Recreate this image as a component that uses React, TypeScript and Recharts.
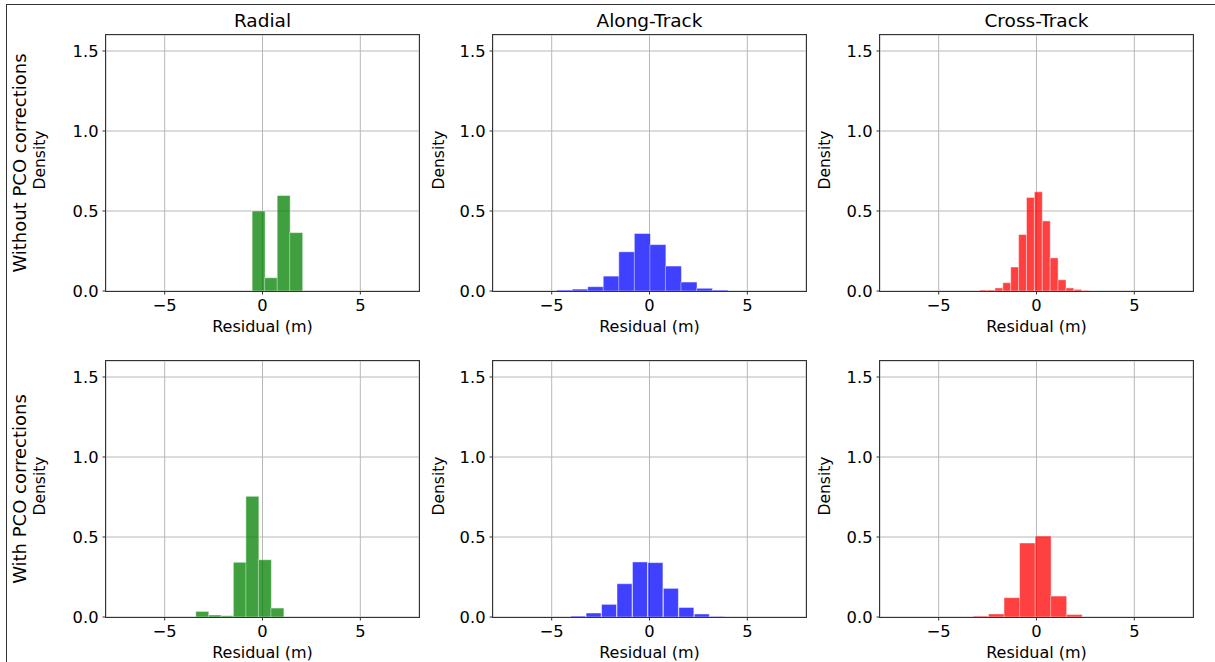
import React from 'react';
import { BarChart, Bar, XAxis, YAxis, CartesianGrid } from 'recharts';

// ---- Data (bin centres in metres, density values) ----
const radialWithoutCenters = [-0.21, 0.43, 1.07, 1.71];
const radialWithoutDensity = [0.5, 0.083, 0.597, 0.365];

const alongWithoutCenters = [-4.3525, -3.5575, -2.7625, -1.9675, -1.1725, -0.3775, 0.4175, 1.2125, 2.0075, 2.8025, 3.5975];
const alongWithoutDensity = [0.006, 0.012, 0.027, 0.093, 0.245, 0.359, 0.29, 0.156, 0.056, 0.017, 0.006];

const crossWithoutCenters = [-2.7285, -2.3255, -1.9225, -1.5195, -1.1165, -0.7135, -0.3105, 0.0925, 0.4955, 0.8985, 1.3015, 1.7045, 2.1075, 2.5105];
const crossWithoutDensity = [0.006, 0.006, 0.019, 0.052, 0.15, 0.353, 0.585, 0.62, 0.438, 0.207, 0.07, 0.019, 0.01, 0.004];

const radialWithCenters = [-3.09, -2.45, -1.81, -1.17, -0.53, 0.11, 0.75];
const radialWithDensity = [0.035, 0.0125, 0.008, 0.342, 0.754, 0.358, 0.056];

const alongWithCenters = [-3.635, -2.845, -2.055, -1.265, -0.475, 0.315, 1.105, 1.895, 2.685, 3.475];
const alongWithDensity = [0.006, 0.025, 0.079, 0.208, 0.344, 0.34, 0.179, 0.06, 0.019, 0.004];

const crossWithCenters = [-2.8525, -2.0575, -1.2625, -0.4675, 0.3275, 1.1225, 1.9175];
const crossWithDensity = [0.006, 0.019, 0.121, 0.4625, 0.506, 0.131, 0.015];

const xTicks = [-5, 0, 5];
const xDomain = [-8, 8];
const yTicks = [0, 0.5, 1.0, 1.5];
const yDomain = [0, 1.6];

const columnTitles = ['Radial', 'Along-Track', 'Cross-Track'];
const rowTitles = ['Without PCO corrections', 'With PCO corrections'];
const xLabelText = 'Residual (m)';
const yLabelText = 'Density';

const colors = ['#008000', '#0000ff', '#ff0000'];

const FONT = '"DejaVu Sans", sans-serif';

// ---- Layout ----
const PLOT_W = 313;
const PLOT_H = 256;
const colLefts = [106, 493, 880];
const rowTops = [35, 361];
const densityX = [41, 440, 826];

const ML = 60;
const MT = 10;
const MR = 10;
const XH = 40;

const fmtX = (v: number) => (v < 0 ? '\u2212' + Math.abs(v) : String(v));
const fmtY = (v: number) => v.toFixed(1);

function Panel({ centers, density, color, left, top }: { centers: number[]; density: number[]; color: string; left: number; top: number }) {
  const data = centers.map((c, i) => ({ x: c, d: density[i] }));
  return (
    <div style={{ position: 'absolute', left: left - ML, top: top - MT }}>
      <BarChart
        width={PLOT_W + ML + MR}
        height={PLOT_H + MT + XH}
        data={data}
        margin={{ top: MT, right: MR, left: 0, bottom: 0 }}
        barCategoryGap={0}
        barGap={0}
      >
        <CartesianGrid stroke="#b8b8b8" strokeWidth={1} />
        <XAxis
          dataKey="x"
          type="number"
          domain={xDomain}
          ticks={xTicks}
          allowDataOverflow
          height={XH}
          axisLine={false}
          tickLine={{ stroke: '#333' }}
          tickSize={3.5}
          tickMargin={5}
          tickFormatter={fmtX}
          tick={{ fontSize: 16.3, fill: '#000', fontFamily: FONT }}
        />
        <YAxis
          type="number"
          domain={yDomain}
          ticks={yTicks}
          allowDataOverflow
          width={ML}
          axisLine={false}
          tickLine={{ stroke: '#333' }}
          tickSize={3.5}
          tickMargin={4}
          tickFormatter={fmtY}
          tick={{ fontSize: 16.3, fill: '#000', fontFamily: FONT }}
        />
        <Bar dataKey="d" fill={color} fillOpacity={0.75} stroke="rgba(255,255,255,0.45)" strokeWidth={1} isAnimationActive={false} />
      </BarChart>
      <div
        style={{
          position: 'absolute',
          left: ML - 1,
          top: MT - 1,
          width: PLOT_W,
          height: PLOT_H,
          border: '1px solid #333',
          pointerEvents: 'none',
        }}
      />
    </div>
  );
}

function Rotated({ text, x, y, size }: { text: string; x: number; y: number; size: number }) {
  return (
    <div
      style={{
        position: 'absolute',
        left: x,
        top: y,
        transform: 'translate(-50%, -50%) rotate(-90deg)',
        whiteSpace: 'nowrap',
        fontSize: size,
        lineHeight: 1,
        fontFamily: FONT,
        color: '#000',
      }}
    >
      {text}
    </div>
  );
}

function Centered({ text, x, y, size }: { text: string; x: number; y: number; size: number }) {
  return (
    <div
      style={{
        position: 'absolute',
        left: x,
        top: y,
        transform: 'translate(-50%, -50%)',
        whiteSpace: 'nowrap',
        fontSize: size,
        lineHeight: 1,
        fontFamily: FONT,
        color: '#000',
      }}
    >
      {text}
    </div>
  );
}

export default function App() {
  const rows = [
    [
      [radialWithoutCenters, radialWithoutDensity],
      [alongWithoutCenters, alongWithoutDensity],
      [crossWithoutCenters, crossWithoutDensity],
    ],
    [
      [radialWithCenters, radialWithDensity],
      [alongWithCenters, alongWithDensity],
      [crossWithCenters, crossWithDensity],
    ],
  ];
  return (
    <div
      style={{
        position: 'absolute',
        left: 0,
        top: 0,
        width: 1215,
        height: 662,
        background: '#fff',
        overflow: 'hidden',
        fontFamily: FONT,
      }}
    >
      <div style={{ position: 'absolute', left: 6, top: 4, width: 1209, height: 1, background: '#333' }} />
      <div style={{ position: 'absolute', left: 6, top: 4, width: 1, height: 658, background: '#333' }} />

      {columnTitles.map((t, c) => (
        <Centered key={'t' + c} text={t} x={colLefts[c] + PLOT_W / 2} y={21} size={18.5} />
      ))}

      {rowTitles.map((t, r) => (
        <Rotated key={'r' + r} text={t} x={20} y={rowTops[r] + PLOT_H / 2} size={18} />
      ))}

      {rows.map((row, r) =>
        row.map(([centers, density], c) => (
          <React.Fragment key={r + '-' + c}>
            <Panel centers={centers} density={density} color={colors[c]} left={colLefts[c]} top={rowTops[r]} />
            <Rotated text={yLabelText} x={densityX[c]} y={rowTops[r] + PLOT_H / 2 - 3} size={15.5} />
            <Centered text={xLabelText} x={colLefts[c] + PLOT_W / 2} y={rowTops[r] + PLOT_H + 36} size={16} />
          </React.Fragment>
        ))
      )}
    </div>
  );
}
